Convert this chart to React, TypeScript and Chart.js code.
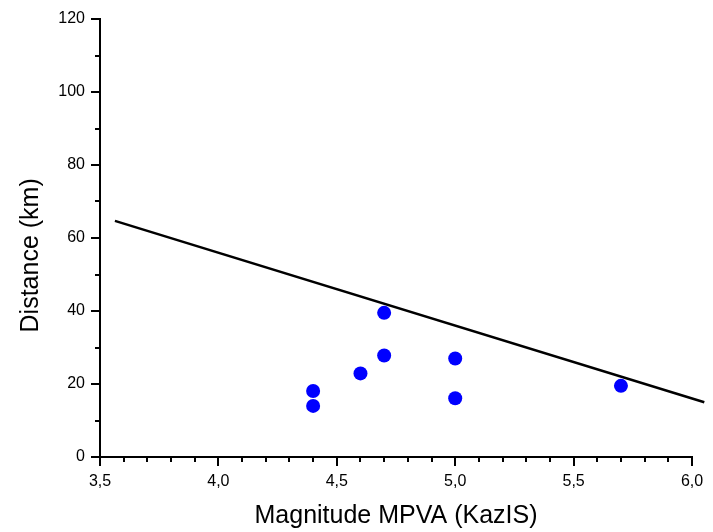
import React, { useEffect, useRef } from "react";
import { Chart, registerables } from "chart.js";

Chart.register(...registerables);

const magnitudes = [4.4, 4.4, 4.6, 4.7, 4.7, 5.0, 5.0, 5.7];
const distances = [18.1, 14.0, 22.9, 39.5, 27.8, 27.0, 16.1, 19.5];
const fitX = [3.563, 6.052];
const fitY = [64.7, 15.0];
const xMajorTicks = [3.5, 4.0, 4.5, 5.0, 5.5, 6.0];
const xMinorTicks = [3.6, 3.7, 3.8, 3.9, 4.1, 4.2, 4.3, 4.4, 4.6, 4.7, 4.8, 4.9, 5.1, 5.2, 5.3, 5.4, 5.6, 5.7, 5.8, 5.9];
const yMajorTicks = [0, 20, 40, 60, 80, 100, 120];
const yMinorTicks = [10, 30, 50, 70, 90, 110];
const xTitle = "Magnitude MPVA (KazIS)";
const yTitle = "Distance (km)";

const FONT = "Arial, 'Liberation Sans', sans-serif";

const minorTickPlugin = {
  id: "minorTicks",
  afterDraw(chart: any) {
    const { ctx, chartArea, scales } = chart;
    ctx.save();
    ctx.strokeStyle = "#000";
    ctx.lineWidth = 2;
    ctx.beginPath();
    xMinorTicks.forEach((v) => {
      const px = Math.round(scales.x.getPixelForValue(v));
      ctx.moveTo(px, chartArea.bottom);
      ctx.lineTo(px, chartArea.bottom + 5);
    });
    yMinorTicks.forEach((v) => {
      const py = Math.round(scales.y.getPixelForValue(v));
      ctx.moveTo(chartArea.left, py);
      ctx.lineTo(chartArea.left - 5, py);
    });
    ctx.stroke();
    ctx.restore();
  },
};

export default function App() {
  const ref = useRef<HTMLCanvasElement>(null);

  useEffect(() => {
    if (!ref.current) return;
    const chart = new Chart(ref.current, {
      type: "scatter",
      data: {
        datasets: [
          {
            label: "data",
            data: magnitudes.map((m, i) => ({ x: m, y: distances[i] })),
            backgroundColor: "#0000FF",
            borderWidth: 0,
            pointRadius: 7,
          },
          {
            label: "fit",
            data: fitX.map((x, i) => ({ x, y: fitY[i] })),
            showLine: true,
            borderColor: "#000",
            borderWidth: 2.5,
            pointRadius: 0,
            clip: false,
          } as any,
        ],
      },
      options: {
        animation: false,
        responsive: false,
        devicePixelRatio: 1,
        layout: { padding: { top: 19, right: 21, left: 0, bottom: 0 } },
        plugins: { legend: { display: false }, tooltip: { enabled: false } },
        scales: {
          x: {
            type: "linear",
            min: 3.5,
            max: 6.0,
            afterBuildTicks: (scale: any) => {
              scale.ticks = xMajorTicks.map((v) => ({ value: v }));
            },
            afterFit: (scale: any) => {
              scale.height = 75;
            },
            border: { display: true, color: "#000", width: 2 },
            grid: { drawOnChartArea: false, drawTicks: true, tickLength: 9, color: "#000", lineWidth: 2 },
            ticks: {
              color: "#000",
              font: { family: FONT, size: 16 },
              padding: 6,
              maxRotation: 0,
              autoSkip: false,
              callback: (v: any) => Number(v).toFixed(1).replace(".", ","),
            },
            title: {
              display: true,
              text: xTitle,
              color: "#000",
              font: { family: FONT, size: 25 },
              padding: { top: 0, bottom: 1 },
            },
          },
          y: {
            type: "linear",
            min: 0,
            max: 120,
            afterBuildTicks: (scale: any) => {
              scale.ticks = yMajorTicks.map((v) => ({ value: v }));
            },
            afterFit: (scale: any) => {
              scale.width = 100;
            },
            border: { display: true, color: "#000", width: 2 },
            grid: { drawOnChartArea: false, drawTicks: true, tickLength: 9, color: "#000", lineWidth: 2 },
            ticks: {
              color: "#000",
              font: { family: FONT, size: 16 },
              padding: 6,
              autoSkip: false,
              callback: (v: any) => String(v),
            },
            title: {
              display: true,
              text: yTitle + "\u00A0\u00A0\u00A0\u00A0\u00A0",
              color: "#000",
              font: { family: FONT, size: 25 },
              padding: { top: 16, bottom: 0 },
            },
          },
        },
      },
      plugins: [minorTickPlugin],
    });
    return () => chart.destroy();
  }, []);

  return (
    <div style={{ position: "absolute", left: 0, top: 0, width: 713, height: 532, background: "#fff" }}>
      <canvas ref={ref} width={713} height={532} />
    </div>
  );
}
